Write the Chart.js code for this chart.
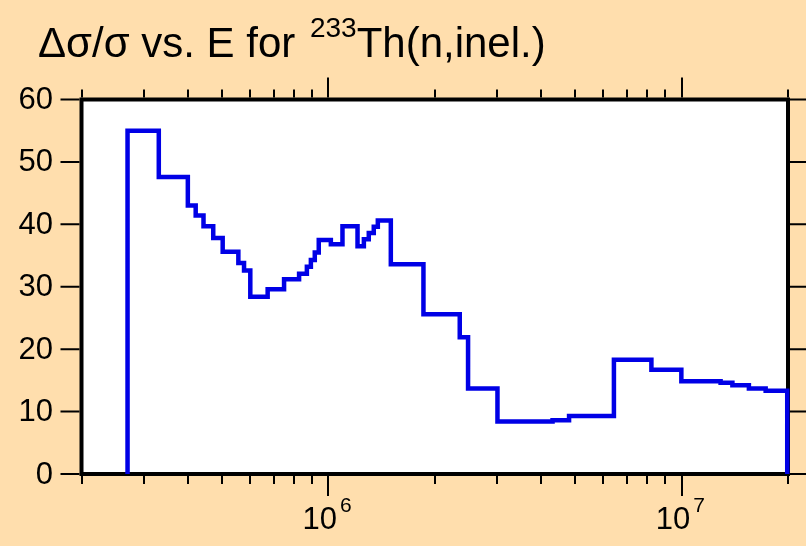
<!DOCTYPE html>
<html>
<head>
<meta charset="utf-8">
<script src="https://cdn.jsdelivr.net/npm/chart.js@4/dist/chart.umd.min.js"></script>
<style>
  html, body { margin: 0; padding: 0; background: #ffdead; }
  #chart { display: block; }
</style>
</head>
<body>
<canvas id="chart" width="806" height="546"></canvas>
<script>
// bin edges (eV) and relative uncertainty per bin (%)
const binEdges = [2.70e5, 3.31e5, 4.00e5, 4.21e5, 4.43e5, 4.72e5, 5.02e5, 5.56e5, 5.77e5, 6.01e5,
    6.73e5, 7.49e5, 8.26e5, 8.69e5, 8.92e5, 9.15e5, 9.39e5, 1.016e6, 1.096e6, 1.209e6,
    1.26e6, 1.301e6, 1.344e6, 1.38e6, 1.502e6, 1.858e6, 2.354e6, 2.485e6, 3.01e6, 4.31e6,
    4.80e6, 6.43e6, 8.21e6, 9.98e6, 1.289e7, 1.392e7, 1.55e7, 1.729e7, 1.99e7];
const binValues = [55.0, 47.6, 43.0, 41.4, 39.7, 37.8, 35.6, 33.8, 32.6, 28.4,
    29.6, 31.2, 32.1, 33.2, 34.3, 35.5, 37.5, 36.8, 39.7, 36.5,
    37.6, 38.6, 39.6, 40.6, 33.6, 25.6, 21.9, 13.7, 8.4, 8.6,
    9.3, 18.3, 16.7, 14.85, 14.6, 14.2, 13.7, 13.35];

const xTicks = [2e5, 3e5, 4e5, 5e5, 6e5, 7e5, 8e5, 9e5, 1e6, 2e6, 3e6, 4e6, 5e6, 6e6, 7e6, 8e6, 9e6, 1e7, 2e7];
const xMajorTicks = [1e6, 1e7];
const xMajorExponents = ["6", "7"];
const yTicks = [0, 10, 20, 30, 40, 50, 60];

let points = [{x: binEdges[0], y: 0}];
for (let i = 0; i < binValues.length; i++) {
    points.push({x: binEdges[i], y: binValues[i]});
}
points.push({x: binEdges[binEdges.length - 1], y: 0});

const FONT = '"Liberation Sans", Arial, sans-serif';

const framePlugin = {
    id: 'frame',
    beforeDatasetsDraw(chart) {
        const a = chart.chartArea, ctx = chart.ctx;
        ctx.save();
        ctx.fillStyle = '#ffffff';
        ctx.fillRect(a.left, a.top, a.right - a.left, a.bottom - a.top);
        ctx.strokeStyle = '#000000';
        ctx.lineWidth = 4;
        ctx.strokeRect(a.left, a.top, a.right - a.left, a.bottom - a.top);
        ctx.restore();
    },
    afterDatasetsDraw(chart) {
        const a = chart.chartArea, ctx = chart.ctx;
        const xs = chart.scales.x, ys = chart.scales.y;
        ctx.save();
        ctx.strokeStyle = '#000000';
        ctx.fillStyle = '#000000';

        // ticks (outside the frame)
        ctx.lineWidth = 2;
        ctx.beginPath();
        xTicks.forEach(v => {
            let px = Math.round(xs.getPixelForValue(v));
            let len = xMajorTicks.includes(v) ? 22 : 10;
            ctx.moveTo(px, a.bottom + 2);
            ctx.lineTo(px, a.bottom + len);
            ctx.moveTo(px, a.top - 2);
            ctx.lineTo(px, a.top - len);
        });
        yTicks.forEach(v => {
            let py = ys.getPixelForValue(v);
            ctx.moveTo(a.left - 2, py);
            ctx.lineTo(a.left - 21, py);
            ctx.moveTo(a.right + 2, py);
            ctx.lineTo(a.right + 20, py);
        });
        ctx.stroke();

        // y labels
        ctx.font = '31px ' + FONT;
        ctx.textAlign = 'right';
        ctx.textBaseline = 'middle';
        yTicks.forEach(v => {
            ctx.fillText(String(v), 53, ys.getPixelForValue(v) + 1);
        });

        // x labels 10^n
        ctx.textAlign = 'left';
        ctx.textBaseline = 'alphabetic';
        xMajorTicks.forEach((v, i) => {
            let px = xs.getPixelForValue(v);
            ctx.font = '31px ' + FONT;
            let w = ctx.measureText('10').width;
            ctx.fillText('10', px - 26, 529);
            ctx.font = '21px ' + FONT;
            ctx.fillText(xMajorExponents[i], px - 26 + w + 3, 512);
        });

        // title
        ctx.font = '42px ' + FONT;
        let t1 = 'Δσ/σ vs. E for ';
        ctx.fillText(t1, 38, 57);
        let x = 38 + ctx.measureText(t1).width;
        ctx.font = '28px ' + FONT;
        ctx.fillText('233', x + 3, 37);
        x += 3 + ctx.measureText('233').width;
        ctx.font = '42px ' + FONT;
        ctx.fillText('Th(n,inel.)', x, 57);
        ctx.restore();
    }
};

new Chart(document.getElementById('chart'), {
    type: 'line',
    data: {
        datasets: [{
            data: points,
            borderColor: '#0000e6',
            borderWidth: 4.5,
            pointRadius: 0,
            fill: false,
            stepped: 'before',
            clip: false
        }]
    },
    options: {
        responsive: false,
        devicePixelRatio: 1,
        animation: false,
        layout: {
            padding: {left: 81.5, top: 99.5, right: 18, bottom: 72}
        },
        plugins: {
            legend: {display: false},
            title: {display: false},
            tooltip: {enabled: false}
        },
        scales: {
            x: {type: 'logarithmic', min: 2e5, max: 2e7, display: false},
            y: {type: 'linear', min: 0, max: 60, display: false}
        }
    },
    plugins: [framePlugin]
});
</script>
</body>
</html>
